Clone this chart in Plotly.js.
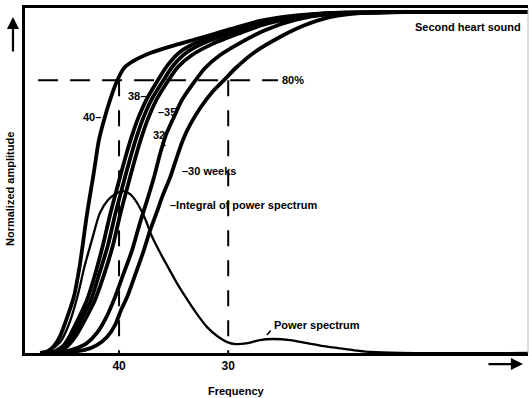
<!DOCTYPE html>
<html>
<head>
<meta charset="utf-8">
<script src="https://cdn.plot.ly/plotly-3.0.1.min.js"></script>
<style>html,body{margin:0;padding:0;background:#fff;}#chart{width:529px;height:398px;}</style>
</head>
<body>
<div id="chart"></div>
<script>
// ---- data (frequency in arbitrary units 0-100, normalized amplitude 0-1) ----
const tickVals = [18.7, 40.4];
const tickText = ['40', '30'];
const level80 = 0.8;

const c40x = [3.0,4.6,5.8,7.0,8.2,9.7,10.9,12.3,13.7,14.7,15.7,16.9,18.3,19.7,21.5,24.9,29.8,34.8,40.8,46.7,52.7,60.6,74.6,100];
const c40y = [0,0.006,0.021,0.050,0.097,0.164,0.258,0.405,0.531,0.625,0.683,0.742,0.798,0.836,0.856,0.880,0.903,0.924,0.950,0.974,0.988,0.997,1,1];

const c38x = [4.0,6.0,7.6,8.9,10.5,12.3,13.9,15.5,16.9,18.2,19.0,20.1,21.3,22.5,24.1,26.2,28.4,30.8,34.8,40.8,46.7,52.7,60.6,74.6,100];
const c38y = [0,0.006,0.021,0.050,0.097,0.155,0.229,0.317,0.405,0.478,0.522,0.581,0.639,0.689,0.742,0.795,0.845,0.883,0.915,0.944,0.971,0.985,0.997,1,1];

const c35x = [4.4,6.4,8.0,9.5,11.1,13.1,14.7,16.5,17.9,19.2,20.0,21.1,22.3,23.5,25.1,27.3,29.4,32.0,36.0,41.7,47.3,53.1,60.6,74.6,100];
const c35y = [0,0.006,0.021,0.050,0.097,0.155,0.229,0.317,0.405,0.478,0.522,0.581,0.639,0.689,0.742,0.795,0.842,0.880,0.912,0.941,0.968,0.985,0.997,1,1];

const cUx = [5.0,7.0,8.5,10.1,11.9,13.9,15.7,17.5,18.9,20.2,21.0,22.1,23.3,24.5,26.1,28.3,30.4,33.2,37.2,42.7,47.9,53.5,60.6,74.6,100];
const cUy = [0,0.006,0.021,0.050,0.097,0.155,0.229,0.317,0.405,0.478,0.522,0.581,0.639,0.689,0.742,0.795,0.839,0.874,0.906,0.938,0.965,0.982,0.994,1,1];

const c32x = [5.0,7.4,9.9,12.3,14.3,16.1,17.9,19.5,21.3,22.9,24.3,25.6,26.8,28.0,29.8,31.2,33.8,35.8,38.8,42.7,47.7,53.7,60.6,74.6,100];
const c32y = [0,0.003,0.012,0.029,0.059,0.103,0.164,0.229,0.302,0.384,0.449,0.513,0.581,0.639,0.698,0.742,0.798,0.836,0.874,0.909,0.947,0.977,0.994,1,1];

const c30x = [5.4,8.9,11.9,14.3,16.3,17.9,19.1,20.3,21.9,23.5,24.9,26.2,27.4,28.8,30.0,31.4,32.8,34.8,37.2,39.6,41.9,45.7,50.7,55.7,60.6,66.6,78.5,100];
const c30y = [0,0.003,0.009,0.023,0.047,0.082,0.126,0.164,0.229,0.296,0.361,0.413,0.463,0.513,0.566,0.625,0.669,0.718,0.765,0.801,0.836,0.883,0.927,0.962,0.985,0.997,1,1];

const psx = [3.0,5.0,7.0,8.9,10.5,11.9,13.3,14.9,16.5,17.9,19.5,20.9,22.3,23.9,25.2,26.8,28.2,30.2,32.2,34.2,36.2,38.2,40.2,41.9,44.3,46.7,49.3,52.7,56.1,59.0,62.0,65.0,68.6,74.6,100];
const psy = [0,0.009,0.032,0.091,0.170,0.258,0.331,0.411,0.449,0.466,0.475,0.466,0.440,0.393,0.343,0.296,0.258,0.205,0.158,0.114,0.076,0.050,0.032,0.026,0.029,0.038,0.041,0.038,0.029,0.021,0.015,0.009,0.003,0,0];

// ---- traces ----
const thick = {color:'#000', width:3.8, shape:'spline', smoothing:0.8};
const curves = [[c40x,c40y],[c38x,c38y],[c35x,c35y],[cUx,cUy],[c32x,c32y],[c30x,c30y]];
const traces = curves.map(c => ({x:c[0], y:c[1], type:'scatter', mode:'lines', line:thick, hoverinfo:'skip'}));
traces.push({x:psx, y:psy, type:'scatter', mode:'lines', line:{color:'#000', width:2.3, shape:'spline', smoothing:0.8}, hoverinfo:'skip'});

const F = 'Liberation Sans, Arial, sans-serif';
const lab = (text, x, y, xanchor) => ({text:'<b>'+text+'</b>', x:x, y:y, xref:'x', yref:'y', xanchor:xanchor||'left', yanchor:'middle', showarrow:false, font:{family:F, size:11, color:'#000'}});
const tick = (x, y, ax, ay) => ({text:'', x:x, y:y, xref:'x', yref:'y', ax:ax, ay:ay, showarrow:true, arrowhead:0, arrowwidth:1.5, arrowcolor:'#000', standoff:0, startstandoff:0});

const annotations = [
  lab('40–', 15.5, 0.692, 'right'),
  lab('38–', 24.4, 0.754, 'right'),
  lab('–35', 26.0, 0.707, 'left'),
  lab('32', 26.6, 0.639, 'center'),
  tick(27.9, 0.607, -5, -5),
  lab('–30 weeks', 30.8, 0.534, 'left'),
  lab('–Integral of power spectrum', 28.4, 0.434, 'left'),
  lab('Power spectrum', 49.1, 0.082, 'left'),
  tick(48.1, 0.053, 5, -6),
  lab('80%', 50.7, level80, 'left'),
  {text:'<b>Second heart sound</b>', x:0.99, y:0.945, xref:'paper', yref:'paper', xanchor:'right', yanchor:'middle', showarrow:false, font:{family:F, size:11, color:'#000'}},
  {text:'<b>Frequency</b>', x:0.42, y:-0.11, xref:'paper', yref:'paper', xanchor:'center', yanchor:'middle', showarrow:false, font:{family:F, size:11, color:'#000'}},
  {text:'<b>Normalized amplitude</b>', x:-0.030, y:0.475, xref:'paper', yref:'paper', xanchor:'center', yanchor:'middle', textangle:-90, showarrow:false, font:{family:F, size:11, color:'#000'}},
  {text:'', x:-0.0239, y:0.974, xref:'paper', yref:'paper', ax:0, ay:36, showarrow:true, arrowhead:2, arrowsize:1.1, arrowwidth:2.2, arrowcolor:'#000', standoff:0},
  {text:'', x:0.990, y:-0.032, xref:'paper', yref:'paper', ax:-36, ay:0, showarrow:true, arrowhead:2, arrowsize:1.1, arrowwidth:2.2, arrowcolor:'#000', standoff:0}
];

const shapes = [
  {type:'line', xref:'x', yref:'y', x0:2.6, x1:50.3, y0:level80, y1:level80, line:{color:'#000', width:2, dash:'20px,12px'}},
  {type:'line', xref:'x', yref:'y', x0:tickVals[0], x1:tickVals[0], y0:level80, y1:0, line:{color:'#000', width:2, dash:'16px,14px'}},
  {type:'line', xref:'x', yref:'y', x0:tickVals[1], x1:tickVals[1], y0:level80, y1:0, line:{color:'#000', width:2, dash:'16px,14px'}},
  {type:'line', xref:'paper', yref:'paper', x0:1, x1:1, y0:0, y1:1, line:{color:'#bbb', width:1}}
];

const layout = {
  width:529, height:398,
  margin:{l:25, r:1, t:8, b:45, pad:0},
  paper_bgcolor:'#fff', plot_bgcolor:'#fff',
  showlegend:false,
  font:{family:F, color:'#000'},
  xaxis:{range:[0,100], showline:true, linewidth:3, linecolor:'#000', mirror:true, showgrid:false, zeroline:false,
         tickvals:tickVals, ticktext:tickText, ticks:'', tickfont:{family:F, size:12, color:'#000', weight:'bold'}, fixedrange:true},
  yaxis:{range:[0,1.012], showline:true, linewidth:3, linecolor:'#000', showgrid:false, zeroline:false,
         showticklabels:false, ticks:'', fixedrange:true},
  annotations:annotations,
  shapes:shapes
};

Plotly.newPlot('chart', traces, layout, {staticPlot:true, displayModeBar:false});
</script>
</body>
</html>
